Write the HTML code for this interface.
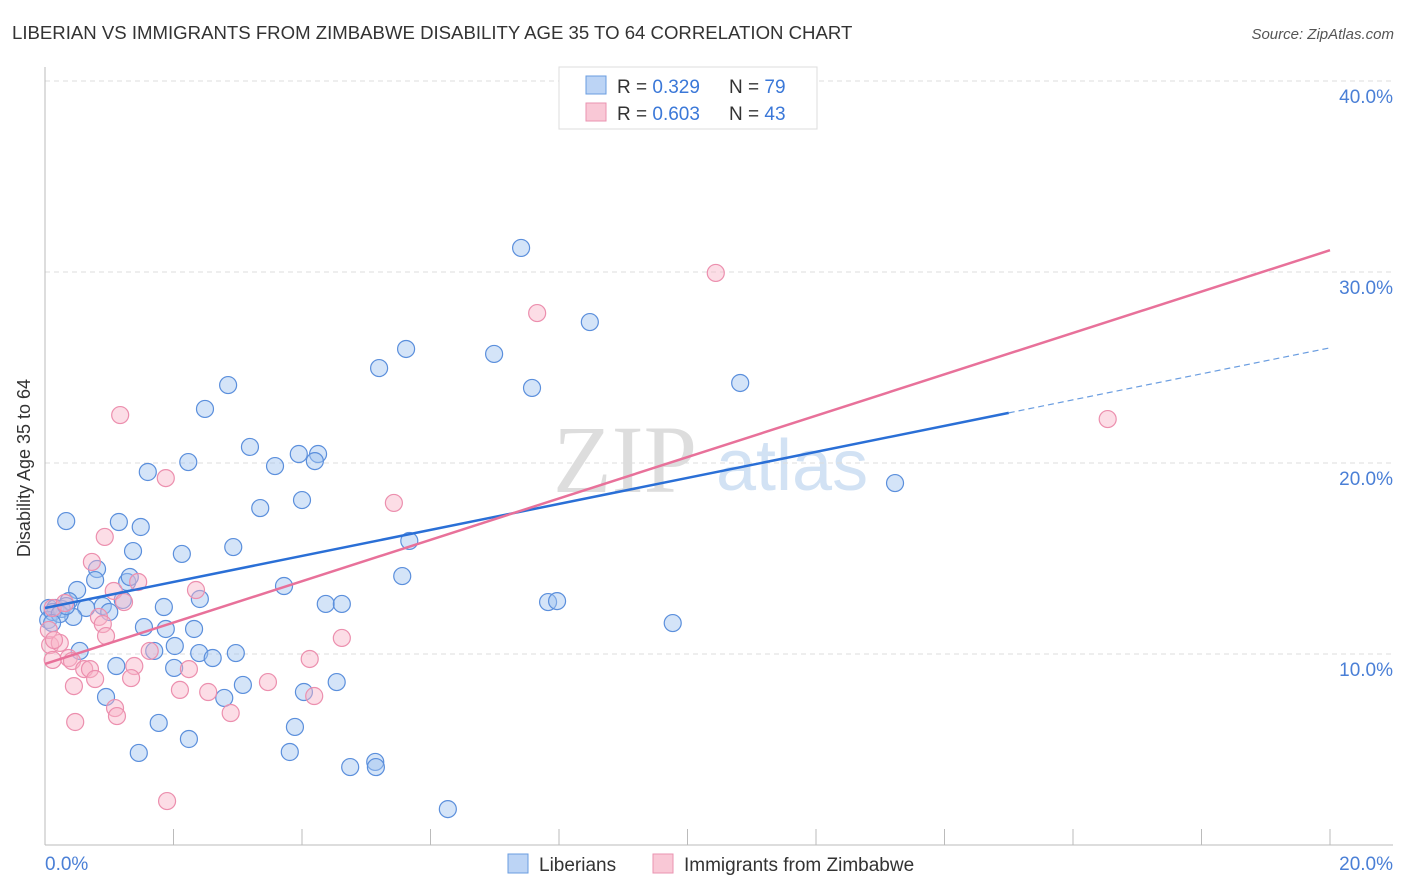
<!DOCTYPE html>
<html><head><meta charset="utf-8"><style>
body{margin:0;background:#fff;font-family:"Liberation Sans",sans-serif;}
</style></head><body>
<svg id="c" width="1406" height="892" xmlns="http://www.w3.org/2000/svg" style="display:block">
<text x="12" y="39" font-size="18.6" fill="#333">LIBERIAN VS IMMIGRANTS FROM ZIMBABWE DISABILITY AGE 35 TO 64 CORRELATION CHART</text>
<text x="1394" y="39" font-size="15" fill="#555" font-style="italic" text-anchor="end">Source: ZipAtlas.com</text>
<g>
<text x="553" y="492" font-family="Liberation Serif,serif" font-size="96" fill="#ddd">ZIP</text>
<text x="716" y="490" font-size="72" fill="#d2e2f4">atlas</text>
</g>
<g id="grid"></g>
<g id="axes"></g>
<g id="pts"></g>
<g id="lines"></g>
<text x="18" y="456" font-size="18" fill="#333" transform="rotate(-90 30 456)" text-anchor="middle">Disability Age 35 to 64</text>
<g>
<rect x="559" y="67" width="258" height="62" fill="#fff" stroke="#ddd"/>
<rect x="586" y="76" width="20" height="18" fill="#bcd4f5" stroke="#6a9de0"/>
<rect x="586" y="103" width="20" height="18" fill="#f9c8d6" stroke="#ea93b0"/>
<text x="617" y="93" font-size="19" fill="#333">R = <tspan fill="#3b78d8">0.329</tspan></text>
<text x="729" y="93" font-size="19" fill="#333">N = <tspan fill="#3b78d8">79</tspan></text>
<text x="617" y="120" font-size="19" fill="#333">R = <tspan fill="#3b78d8">0.603</tspan></text>
<text x="729" y="120" font-size="19" fill="#333">N = <tspan fill="#3b78d8">43</tspan></text>
</g>
<g>
<rect x="508" y="854" width="20" height="19" fill="#bcd4f5" stroke="#6a9de0"/>
<text x="539" y="871" font-size="19" fill="#333">Liberians</text>
<rect x="653" y="854" width="20" height="19" fill="#f9c8d6" stroke="#ea93b0"/>
<text x="684" y="871" font-size="19" fill="#333">Immigrants from Zimbabwe</text>
</g>
</svg>
<script>
const yTicks=[10,20,30,40];
const yTickLabels=["10.0%","20.0%","30.0%","40.0%"];
const xTickLabels=["0.0%","20.0%"];
const blueX=[7.41,8.48,5.62,6.99,5.20,10.82,7.58,2.85,2.49,3.19,3.95,4.25,2.23,4.20,3.58,1.60,4.00,13.23,3.35,0.33,1.15,1.49,2.93,5.67,1.37,2.13,0.81,0.78,1.28,1.32,0.50,5.56,3.72,2.41,0.37,4.37,4.62,7.83,7.97,1.85,1.21,0.90,1.00,0.64,0.06,0.16,0.26,0.44,0.05,0.12,1.54,1.88,2.32,9.77,2.02,1.70,2.97,2.40,2.61,0.54,1.11,2.01,3.08,4.54,4.03,2.79,0.95,1.77,3.89,2.24,1.46,3.81,4.75,5.14,5.15,6.27,0.23,0.11,0.33];
const blueY=[31.26,27.38,25.97,25.71,24.97,24.19,23.93,24.08,22.83,20.84,20.47,20.47,20.05,20.10,19.84,19.53,18.06,18.95,17.64,16.96,16.91,16.65,15.60,15.92,15.39,15.24,14.45,13.87,13.77,14.03,13.35,14.08,13.56,12.88,12.77,12.62,12.62,12.72,12.77,12.46,12.83,12.51,12.20,12.41,12.41,12.41,12.36,11.94,11.78,12.20,11.41,11.31,11.31,11.62,10.42,10.16,10.05,10.05,9.79,10.16,9.37,9.27,8.38,8.53,8.01,7.70,7.75,6.39,6.18,5.55,4.82,4.87,4.08,4.35,4.08,1.88,12.09,11.62,12.51];
const pinkX=[10.44,7.66,16.54,1.17,1.88,5.43,0.93,0.73,1.45,2.35,1.07,0.12,0.31,1.23,0.84,0.90,0.95,4.62,0.08,0.23,0.37,0.12,0.42,0.61,0.70,1.63,2.24,4.12,1.39,0.78,1.34,0.45,3.47,2.10,2.54,4.19,1.09,1.12,2.89,0.47,1.90,0.06,0.14];
const pinkY=[29.95,27.85,22.30,22.51,19.21,17.91,16.13,14.82,13.77,13.35,13.30,12.41,12.67,12.72,11.94,11.57,10.94,10.84,10.47,10.58,9.79,9.69,9.63,9.21,9.21,10.16,9.21,9.74,9.37,8.69,8.74,8.32,8.53,8.12,8.01,7.80,7.17,6.75,6.91,6.44,2.30,11.26,10.73];
const blueTrend=[12.41,0.681];
const blueSolidEnd=15.0;
const pinkTrend=[9.48,1.083];

const NS="http://www.w3.org/2000/svg";
const sx=v=>45+v*64.25, sy=v=>845-v*19.1;
function mk(tag,attrs,parent){const e=document.createElementNS(NS,tag);for(const k in attrs)e.setAttribute(k,attrs[k]);parent.appendChild(e);return e;}
const grid=document.getElementById('grid'),axes=document.getElementById('axes'),pts=document.getElementById('pts'),lines=document.getElementById('lines');
yTicks.forEach((t,i)=>{
 const l=mk('line',{x1:45,x2:1393,y1:sy(t),y2:sy(t),stroke:'#ddd','stroke-dasharray':'5,4'},grid);
 
 
 const tx=mk('text',{x:1393,y:sy(t)+22,'font-size':19,fill:'#4a7fd6','text-anchor':'end'},axes);
 tx.textContent=yTickLabels[i];
 
 
});
const ya=mk('line',{x1:45,x2:45,y1:67,y2:845,stroke:'#bbb'},axes);


const xa=mk('line',{x1:45,x2:1393,y1:845,y2:845,stroke:'#bbb'},axes);


for(let i=0;i<=10;i++){
 const tk=mk('line',{x1:sx(i*2),x2:sx(i*2),y1:829,y2:845,stroke:'#bbb'},axes);
 
 
}
const x0=mk('text',{x:45,y:870,'font-size':19,fill:'#4a7fd6'},axes);x0.textContent=xTickLabels[0];


const x1=mk('text',{x:1393,y:870,'font-size':19,fill:'#4a7fd6','text-anchor':'end'},axes);x1.textContent=xTickLabels[1];


blueX.forEach((v,i)=>{
 const c=mk('circle',{cx:sx(v),cy:sy(blueY[i]),r:8.5,fill:'rgba(160,195,240,0.45)',stroke:'#5b8fdc','stroke-width':1.2},pts);
 
 
});
pinkX.forEach((v,i)=>{
 const c=mk('circle',{cx:sx(v),cy:sy(pinkY[i]),r:8.5,fill:'rgba(248,180,200,0.45)',stroke:'#ec8fae','stroke-width':1.2},pts);
 
 
});
const bl=mk('line',{x1:sx(0),y1:sy(blueTrend[0]),x2:sx(blueSolidEnd),y2:sy(blueTrend[0]+blueTrend[1]*blueSolidEnd),stroke:'#2a6fd6','stroke-width':2.5},lines);


const bd=mk('line',{x1:sx(blueSolidEnd),y1:sy(blueTrend[0]+blueTrend[1]*blueSolidEnd),x2:sx(20),y2:sy(blueTrend[0]+blueTrend[1]*20),stroke:'#6a9de0','stroke-width':1.2,'stroke-dasharray':'6,4'},lines);


const pl=mk('line',{x1:sx(0),y1:sy(pinkTrend[0]),x2:sx(20),y2:sy(pinkTrend[0]+pinkTrend[1]*20),stroke:'#e8719a','stroke-width':2.5},lines);


</script>
</body></html>
